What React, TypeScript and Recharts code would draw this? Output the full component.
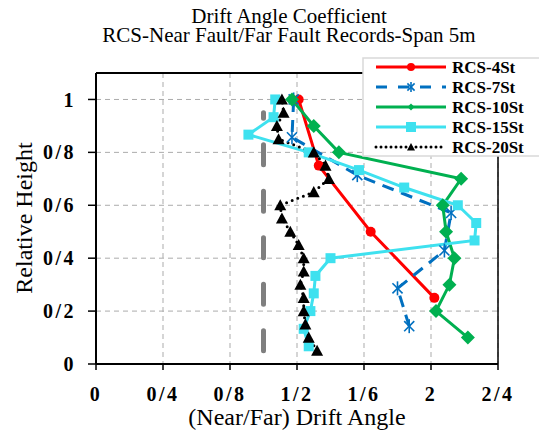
import React from "react";
import {
  LineChart,
  Line,
  XAxis,
  YAxis,
  CartesianGrid,
  ReferenceLine,
} from "recharts";

const FONT = '"Liberation Serif", "Times New Roman", serif';

// relative height of each storey
const heights4 = [0.25, 0.5, 0.75, 1];
const heights7 = [0.143, 0.286, 0.429, 0.571, 0.714, 0.857, 1];
const heights10 = [0.1, 0.2, 0.3, 0.4, 0.5, 0.6, 0.7, 0.8, 0.9, 1];
const heights15 = [
  0.067, 0.133, 0.2, 0.267, 0.333, 0.4, 0.467, 0.533, 0.6, 0.667, 0.733, 0.8,
  0.867, 0.933, 1,
];
const heights20 = [
  0.05, 0.1, 0.15, 0.2, 0.25, 0.3, 0.35, 0.4, 0.45, 0.5, 0.55, 0.6, 0.65, 0.7,
  0.75, 0.8, 0.85, 0.9, 0.95, 1,
];

// near / far drift angle ratio
const drift4 = [2.02, 1.64, 1.33, 1.21];
const drift7 = [1.87, 1.8, 2.08, 2.12, 1.56, 1.17, 1.18];
const drift10 = [2.22, 2.03, 2.11, 2.14, 2.09, 2.07, 2.18, 1.45, 1.3, 1.17];
const drift15 = [
  1.27, 1.24, 1.28, 1.3, 1.31, 1.4, 2.26, 2.27, 2.16, 1.84, 1.57, 1.27, 0.91,
  1.06, 1.07,
];
const drift20 = [
  1.32, 1.27, 1.25, 1.24, 1.24, 1.22, 1.24, 1.24, 1.21, 1.16, 1.11, 1.1, 1.3,
  1.39, 1.37, 1.3, 1.09, 1.08, 1.12, 1.11,
];

// ratio = 1 marker line
const unityX = 1;
const unityFrom = 0.05;
const unityTo = 0.95;

const xTicks = [0, 0.4, 0.8, 1.2, 1.6, 2, 2.4];
const xTickLabels = ["0", "0/4", "0/8", "1/2", "1/6", "2", "2/4"];
const yTicks = [0, 0.2, 0.4, 0.6, 0.8, 1];
const yTickLabels = ["0", "0/2", "0/4", "0/6", "0/8", "1"];

const toPoints = (h: number[], d: number[]) =>
  h.map((y, i) => ({ x: d[i], y }));

type Kind = "circle" | "star" | "diamond" | "square" | "triangle";

const series = [
  { name: "RCS-4St", color: "#FF0000", kind: "circle" as Kind, dash: undefined, data: toPoints(heights4, drift4) },
  { name: "RCS-7St", color: "#0070C0", kind: "star" as Kind, dash: "12 8", data: toPoints(heights7, drift7) },
  { name: "RCS-10St", color: "#00B050", kind: "diamond" as Kind, dash: undefined, data: toPoints(heights10, drift10) },
  { name: "RCS-15St", color: "#3EE1EF", kind: "square" as Kind, dash: undefined, data: toPoints(heights15, drift15) },
  { name: "RCS-20St", color: "#000000", kind: "triangle" as Kind, dash: "0 6", data: toPoints(heights20, drift20) },
];

function Marker({ kind, cx, cy, color, s }: { kind: Kind; cx: number; cy: number; color: string; s: number }) {
  if (kind === "circle") return <circle cx={cx} cy={cy} r={s} fill={color} />;
  if (kind === "square")
    return <rect x={cx - s} y={cy - s} width={s * 2} height={s * 2} fill={color} />;
  if (kind === "diamond")
    return (
      <polygon
        points={`${cx},${cy - s} ${cx + s},${cy} ${cx},${cy + s} ${cx - s},${cy}`}
        fill={color}
      />
    );
  if (kind === "triangle")
    return (
      <polygon
        points={`${cx},${cy - s} ${cx + s},${cy + s * 0.85} ${cx - s},${cy + s * 0.85}`}
        fill={color}
      />
    );
  const d = s * 0.72;
  return (
    <g stroke={color} strokeWidth={1.6}>
      <line x1={cx} y1={cy - s} x2={cx} y2={cy + s} />
      <line x1={cx - d} y1={cy - d} x2={cx + d} y2={cy + d} />
      <line x1={cx - d} y1={cy + d} x2={cx + d} y2={cy - d} />
    </g>
  );
}

const plotSize: Record<Kind, number> = {
  circle: 5,
  star: 7,
  diamond: 7,
  square: 5,
  triangle: 6,
};
const legendSize: Record<Kind, number> = {
  circle: 4,
  star: 5,
  diamond: 3.5,
  square: 5,
  triangle: 4,
};

const tickFont = {
  fill: "#000",
  fontSize: 20,
  fontWeight: 700,
  fontFamily: FONT,
  letterSpacing: 2.5,
};

export default function App() {
  return (
    <div style={{ position: "absolute", left: 0, top: 0, width: 539, height: 430, background: "#fff" }}>
      <LineChart
        width={539}
        height={430}
        margin={{ top: 73, right: 41, bottom: 36, left: 36 }}
      >
        <CartesianGrid stroke="#ababab" strokeDasharray="5 4" strokeWidth={1} />
        <XAxis
          type="number"
          dataKey="x"
          domain={[0, 2.4]}
          ticks={xTicks}
          interval={0}
          allowDataOverflow
          height={30}
          tickFormatter={(_v: number, i: number) => xTickLabels[i]}
          tick={tickFont}
          tickSize={6}
          tickMargin={17}
          axisLine={{ stroke: "#000", strokeWidth: 2 }}
          tickLine={{ stroke: "#000", strokeWidth: 1.5 }}
        />
        <YAxis
          type="number"
          dataKey="y"
          domain={[0, 1.1]}
          ticks={yTicks}
          interval={0}
          allowDataOverflow
          width={60}
          tickFormatter={(_v: number, i: number) => yTickLabels[i]}
          tick={tickFont}
          tickSize={8}
          tickMargin={12}
          axisLine={{ stroke: "#000", strokeWidth: 2 }}
          tickLine={{ stroke: "#000", strokeWidth: 1.5 }}
        />
        <ReferenceLine y={1.1} stroke="#000" strokeWidth={2} />
        <ReferenceLine x={2.4} stroke="#000" strokeWidth={1.5} />
        <ReferenceLine
          segment={[
            { x: unityX, y: unityFrom },
            { x: unityX, y: unityTo },
          ]}
          stroke="#7F7F7F"
          strokeWidth={5}
          strokeDasharray="20 26.5"
          strokeLinecap="round"
        />
        {series.map((s) => (
          <Line
            key={s.name}
            name={s.name}
            data={s.data}
            dataKey="y"
            type="linear"
            stroke={s.color}
            strokeWidth={3}
            strokeDasharray={s.dash}
            strokeLinecap={s.kind === "triangle" ? "round" : "butt"}
            isAnimationActive={false}
            activeDot={false}
            dot={(p: any) => (
              <Marker
                key={`${s.name}-${p.index}`}
                kind={s.kind}
                cx={p.cx}
                cy={p.cy}
                color={s.color}
                s={plotSize[s.kind]}
              />
            )}
          />
        ))}
      </LineChart>

      <svg
        width={539}
        height={430}
        style={{ position: "absolute", left: 0, top: 0, pointerEvents: "none" }}
      >
        <g fontFamily={FONT} fill="#000">
          <text x={289} y={23.3} fontSize={21} textAnchor="middle">
            Drift Angle Coefficient
          </text>
          <text x={289} y={41.5} fontSize={21} textAnchor="middle">
            RCS-Near Fault/Far Fault Records-Span 5m
          </text>
          <text x={297} y={425} fontSize={24} textAnchor="middle">
            (Near/Far) Drift Angle
          </text>
          <text
            transform="translate(31.5,218) rotate(-90)"
            fontSize={24}
            textAnchor="middle"
          >
            Relative Height
          </text>
        </g>

        <rect x={363} y={58} width={190} height={98} fill="#fff" stroke="#d9d9d9" strokeWidth={1.5} />
        {series.map((s, i) => {
          const cy = 67 + i * 20;
          return (
            <g key={s.name}>
              <line
                x1={376}
                x2={446}
                y1={cy}
                y2={cy}
                stroke={s.color}
                strokeWidth={3}
                strokeDasharray={s.kind === "triangle" ? "0 5" : s.kind === "star" ? "11 11" : undefined}
                strokeLinecap={s.kind === "triangle" ? "round" : "butt"}
              />
              <Marker kind={s.kind} cx={411} cy={cy} color={s.color} s={legendSize[s.kind]} />
              <text
                x={452}
                y={cy + 5.6}
                fontFamily={FONT}
                fontSize={17}
                fontWeight={700}
                fill="#000"
              >
                {s.name}
              </text>
            </g>
          );
        })}
      </svg>
    </div>
  );
}
